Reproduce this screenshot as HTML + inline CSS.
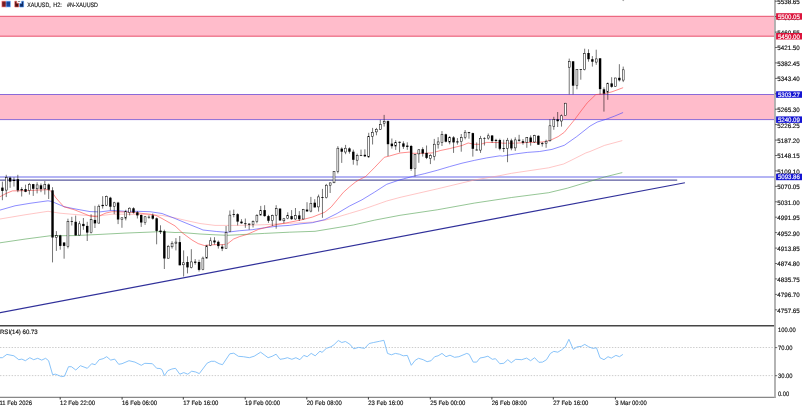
<!DOCTYPE html>
<html><head><meta charset="utf-8"><title>XAUUSD H2</title>
<style>html,body{margin:0;padding:0;background:#fff;overflow:hidden}body{width:807px;height:407px;position:relative;font-family:"Liberation Sans",sans-serif}svg{position:absolute;left:0;top:0;display:block}text{font-family:"Liberation Sans",sans-serif;stroke-width:0.15px;paint-order:stroke;text-rendering:geometricPrecision}</style>
</head><body>
<svg width="807" height="407" viewBox="0 0 807 407">
<rect x="0" y="0" width="807" height="407" fill="#ffffff"/>
<defs><filter id="soft" x="-2%" y="-2%" width="104%" height="104%" color-interpolation-filters="sRGB"><feGaussianBlur stdDeviation="0.3"/></filter></defs>
<g filter="url(#soft)">
<rect x="-3" y="16.2" width="778.0" height="20" fill="#ffbccb"/>
<rect x="-3" y="94.5" width="778.0" height="25.1" fill="#ffbccb"/>
<line x1="-3" y1="16.3" x2="775.0" y2="16.3" stroke="#e8506c" stroke-width="1"/>
<line x1="-3" y1="36.2" x2="775.0" y2="36.2" stroke="#e8506c" stroke-width="1"/>
<line x1="-3" y1="94.5" x2="775.0" y2="94.5" stroke="#8a6ad8" stroke-width="1"/>
<line x1="-3" y1="119.6" x2="775.0" y2="119.6" stroke="#8a6ad8" stroke-width="1"/>
<line x1="-3" y1="177" x2="775.0" y2="177" stroke="#b4b4f4" stroke-width="1.9"/>
<line x1="-3" y1="180.1" x2="677.2" y2="180.1" stroke="#5a5a9e" stroke-width="1.25"/>
<line x1="-3" y1="313.17" x2="684.9" y2="182.7" stroke="#30309a" stroke-width="1.15"/>
<polyline points="0.0,242.8 25.0,239.1 50.0,235.8 75.0,235.6 100.0,234.4 125.0,233.1 150.0,232.1 160.0,231.6 175.0,232.5 180.0,232.4 200.0,234.0 215.0,234.8 227.4,235.3 239.8,234.7 264.6,233.4 289.3,232.2 315.0,231.3 353.3,225.0 374.3,220.2 400.0,215.3 437.2,209.8 474.3,203.1 511.5,197.5 548.7,192.7 567.3,188.2 585.9,182.6 604.5,177.0 622.3,172.6" fill="none" stroke="#4fa04f" stroke-width="0.6"/>
<polyline points="0.0,219.0 25.0,214.8 48.0,211.3 60.0,213.2 75.0,214.5 90.0,215.7 100.0,215.8 112.0,214.2 125.0,214.2 150.0,214.8 162.0,215.4 175.0,217.9 187.0,220.7 200.0,223.5 215.0,225.4 239.8,225.4 264.6,224.7 289.3,223.3 300.0,222.7 312.4,222.1 324.8,220.2 337.2,217.1 349.6,213.4 362.0,209.7 374.3,205.4 386.7,201.0 400.0,197.4 437.2,188.9 474.3,180.0 500.0,175.6 511.5,173.3 548.7,167.8 563.6,164.0 571.8,160.0 585.9,152.9 590.0,151.5 604.5,145.4 622.3,140.6" fill="none" stroke="#ffa0a0" stroke-width="0.6"/>
<polyline points="0.0,210.1 15.0,205.8 30.0,203.3 48.0,200.8 52.0,201.5 56.0,203.3 64.0,206.7 75.0,208.9 90.0,211.6 100.0,211.9 112.0,210.4 125.0,211.3 137.0,211.3 150.0,211.7 162.0,213.5 175.0,218.5 187.0,223.5 200.0,228.7 203.0,230.0 216.7,231.5 225.4,232.2 227.4,232.2 239.8,230.7 252.2,229.7 264.6,227.8 277.0,226.2 289.3,225.4 300.0,223.9 312.4,222.7 324.8,219.6 337.2,213.4 349.6,206.0 362.0,199.8 374.3,192.3 386.7,184.3 400.0,179.8 412.4,176.5 424.8,173.6 437.2,170.3 449.6,166.6 462.0,163.2 474.3,160.4 486.7,157.9 500.0,155.8 502.4,156.1 514.8,154.0 527.2,152.4 539.6,151.5 552.0,149.4 564.3,145.3 576.7,136.6 590.0,126.1 597.1,122.1 605.8,119.4 614.4,116.2 623.1,112.5" fill="none" stroke="#4040ff" stroke-width="0.6"/>
<polyline points="0.0,196.7 6.0,193.5 12.4,190.9 25.0,190.7 40.0,190.0 47.0,189.7 50.0,190.3 53.0,193.5 56.0,198.0 63.8,206.7 75.0,210.0 90.0,216.0 97.0,216.8 100.0,215.6 106.0,213.0 112.0,211.7 125.0,212.0 137.0,212.9 150.0,214.2 156.0,215.4 162.0,218.5 175.0,225.9 183.0,233.4 192.0,240.0 198.2,243.6 204.3,245.5 210.5,244.9 216.7,244.6 222.9,244.7 227.4,243.9 233.6,239.0 239.8,236.5 247.2,234.4 252.2,232.2 258.4,229.4 264.6,227.8 277.0,224.5 289.3,222.3 301.7,219.8 312.4,217.1 324.8,212.2 331.0,207.2 337.2,199.8 343.4,192.3 349.6,186.8 355.8,181.8 359.5,179.6 365.7,176.5 374.3,167.8 384.3,157.3 389.2,156.1 400.0,153.0 409.3,152.1 412.4,153.3 424.8,153.3 432.2,152.9 440.9,150.4 449.6,148.6 462.0,145.5 468.2,143.0 474.3,144.3 480.5,144.3 486.7,142.4 500.0,142.6 502.4,143.2 514.8,143.2 527.2,142.5 539.6,142.2 545.8,141.6 552.0,139.5 558.2,136.6 564.3,132.3 569.3,126.1 574.8,119.4 581.0,111.0 587.2,102.9 595.8,94.6 603.3,93.9 612.0,91.8 623.1,87.7" fill="none" stroke="#ff4040" stroke-width="0.6"/>
<g>
<line x1="2.40" y1="181.6" x2="2.40" y2="200.2" stroke="#000" stroke-width="0.55"/>
<rect x="1.20" y="187.6" width="2.4" height="3.3" fill="#000"/>
<line x1="6.26" y1="174.8" x2="6.26" y2="197.1" stroke="#000" stroke-width="0.55"/>
<rect x="5.31" y="177.6" width="1.9" height="12.5" fill="#fff" stroke="#000" stroke-width="0.5"/>
<line x1="10.11" y1="176.7" x2="10.11" y2="187.8" stroke="#000" stroke-width="0.55"/>
<rect x="8.91" y="177.7" width="2.4" height="3.9" fill="#000"/>
<line x1="13.97" y1="177.3" x2="13.97" y2="186.6" stroke="#000" stroke-width="0.55"/>
<rect x="12.77" y="179.8" width="2.4" height="1.2" fill="#000"/>
<line x1="17.82" y1="174.8" x2="17.82" y2="192.2" stroke="#000" stroke-width="0.55"/>
<rect x="16.62" y="179.2" width="2.4" height="11.1" fill="#000"/>
<line x1="21.68" y1="187.2" x2="21.68" y2="196.5" stroke="#000" stroke-width="0.55"/>
<rect x="20.48" y="189.1" width="2.4" height="1.2" fill="#000"/>
<line x1="25.54" y1="184.7" x2="25.54" y2="192.2" stroke="#000" stroke-width="0.55"/>
<rect x="24.34" y="189.1" width="2.4" height="2.7" fill="#000"/>
<line x1="29.39" y1="182.9" x2="29.39" y2="194.6" stroke="#000" stroke-width="0.55"/>
<rect x="28.44" y="184.3" width="1.9" height="6.3" fill="#fff" stroke="#000" stroke-width="0.5"/>
<line x1="33.25" y1="183.9" x2="33.25" y2="195.9" stroke="#000" stroke-width="0.55"/>
<rect x="32.05" y="184.1" width="2.4" height="4.7" fill="#000"/>
<line x1="37.10" y1="182.3" x2="37.10" y2="193.4" stroke="#000" stroke-width="0.55"/>
<rect x="36.15" y="184.9" width="1.9" height="3.9" fill="#fff" stroke="#000" stroke-width="0.5"/>
<line x1="40.96" y1="183.5" x2="40.96" y2="192.2" stroke="#000" stroke-width="0.55"/>
<rect x="39.76" y="185.3" width="2.4" height="3.8" fill="#000"/>
<line x1="44.82" y1="181.0" x2="44.82" y2="194.6" stroke="#000" stroke-width="0.55"/>
<rect x="43.87" y="184.3" width="1.9" height="4.5" fill="#fff" stroke="#000" stroke-width="0.5"/>
<line x1="48.67" y1="183.5" x2="48.67" y2="199.0" stroke="#000" stroke-width="0.55"/>
<rect x="47.47" y="184.5" width="2.4" height="5.2" fill="#000"/>
<line x1="52.53" y1="187.2" x2="52.53" y2="262.4" stroke="#000" stroke-width="0.55"/>
<rect x="51.33" y="190.3" width="2.4" height="47.2" fill="#000"/>
<line x1="56.38" y1="231.1" x2="56.38" y2="250.9" stroke="#000" stroke-width="0.55"/>
<rect x="55.43" y="235.7" width="1.9" height="1.6" fill="#fff" stroke="#000" stroke-width="0.5"/>
<line x1="60.24" y1="234.8" x2="60.24" y2="249.7" stroke="#000" stroke-width="0.55"/>
<rect x="59.04" y="235.4" width="2.4" height="10.5" fill="#000"/>
<line x1="64.10" y1="242.2" x2="64.10" y2="258.7" stroke="#000" stroke-width="0.55"/>
<rect x="62.90" y="242.5" width="2.4" height="3.4" fill="#000"/>
<line x1="67.95" y1="218.7" x2="67.95" y2="248.4" stroke="#000" stroke-width="0.55"/>
<rect x="67.00" y="221.4" width="1.9" height="24.9" fill="#fff" stroke="#000" stroke-width="0.5"/>
<line x1="71.81" y1="216.8" x2="71.81" y2="225.5" stroke="#000" stroke-width="0.55"/>
<rect x="70.61" y="221.2" width="2.4" height="0.7" fill="#000"/>
<line x1="75.66" y1="215.6" x2="75.66" y2="235.4" stroke="#000" stroke-width="0.55"/>
<rect x="74.46" y="221.8" width="2.4" height="13.6" fill="#000"/>
<line x1="79.52" y1="221.2" x2="79.52" y2="235.4" stroke="#000" stroke-width="0.55"/>
<rect x="78.57" y="223.8" width="1.9" height="11.3" fill="#fff" stroke="#000" stroke-width="0.5"/>
<line x1="83.38" y1="218.0" x2="83.38" y2="229.8" stroke="#000" stroke-width="0.55"/>
<rect x="82.18" y="223.9" width="2.4" height="2.2" fill="#000"/>
<line x1="87.23" y1="221.8" x2="87.23" y2="241.0" stroke="#000" stroke-width="0.55"/>
<rect x="86.03" y="225.9" width="2.4" height="6.7" fill="#000"/>
<line x1="91.09" y1="214.3" x2="91.09" y2="233.5" stroke="#000" stroke-width="0.55"/>
<rect x="90.14" y="219.6" width="1.9" height="13.1" fill="#fff" stroke="#000" stroke-width="0.5"/>
<line x1="94.94" y1="205.8" x2="94.94" y2="228.0" stroke="#000" stroke-width="0.55"/>
<rect x="93.74" y="219.9" width="2.4" height="3.5" fill="#000"/>
<line x1="98.80" y1="204.5" x2="98.80" y2="223.5" stroke="#000" stroke-width="0.55"/>
<rect x="97.85" y="206.2" width="1.9" height="16.9" fill="#fff" stroke="#000" stroke-width="0.5"/>
<line x1="102.66" y1="196.2" x2="102.66" y2="208.6" stroke="#000" stroke-width="0.55"/>
<rect x="101.46" y="204.9" width="2.4" height="1.2" fill="#000"/>
<line x1="106.51" y1="195.6" x2="106.51" y2="206.1" stroke="#000" stroke-width="0.55"/>
<rect x="105.56" y="196.4" width="1.9" height="8.8" fill="#fff" stroke="#000" stroke-width="0.5"/>
<line x1="110.37" y1="196.8" x2="110.37" y2="210.4" stroke="#000" stroke-width="0.55"/>
<rect x="109.17" y="197.7" width="2.4" height="9.0" fill="#000"/>
<line x1="114.22" y1="201.8" x2="114.22" y2="214.2" stroke="#000" stroke-width="0.55"/>
<rect x="113.27" y="202.8" width="1.9" height="3.6" fill="#fff" stroke="#000" stroke-width="0.5"/>
<line x1="118.08" y1="201.8" x2="118.08" y2="224.1" stroke="#000" stroke-width="0.55"/>
<rect x="116.88" y="202.6" width="2.4" height="16.9" fill="#000"/>
<line x1="121.94" y1="217.5" x2="121.94" y2="227.8" stroke="#000" stroke-width="0.55"/>
<rect x="120.99" y="217.8" width="1.9" height="1.7" fill="#fff" stroke="#000" stroke-width="0.5"/>
<line x1="125.79" y1="209.8" x2="125.79" y2="220.4" stroke="#000" stroke-width="0.55"/>
<rect x="124.84" y="211.3" width="1.9" height="6.9" fill="#fff" stroke="#000" stroke-width="0.5"/>
<line x1="129.65" y1="207.3" x2="129.65" y2="215.4" stroke="#000" stroke-width="0.55"/>
<rect x="128.70" y="208.2" width="1.9" height="4.4" fill="#fff" stroke="#000" stroke-width="0.5"/>
<line x1="133.50" y1="207.3" x2="133.50" y2="213.5" stroke="#000" stroke-width="0.55"/>
<rect x="132.30" y="208.3" width="2.4" height="4.3" fill="#000"/>
<line x1="137.36" y1="211.1" x2="137.36" y2="218.5" stroke="#000" stroke-width="0.55"/>
<rect x="136.16" y="212.3" width="2.4" height="3.1" fill="#000"/>
<line x1="141.22" y1="214.5" x2="141.22" y2="226.9" stroke="#000" stroke-width="0.55"/>
<rect x="140.02" y="215.0" width="2.4" height="7.5" fill="#000"/>
<line x1="145.07" y1="216.0" x2="145.07" y2="224.9" stroke="#000" stroke-width="0.55"/>
<rect x="144.12" y="216.8" width="1.9" height="5.7" fill="#fff" stroke="#000" stroke-width="0.5"/>
<line x1="148.93" y1="215.4" x2="148.93" y2="218.7" stroke="#000" stroke-width="0.55"/>
<rect x="147.73" y="216.8" width="2.4" height="0.7" fill="#000"/>
<line x1="152.78" y1="213.5" x2="152.78" y2="219.7" stroke="#000" stroke-width="0.55"/>
<rect x="151.58" y="215.4" width="2.4" height="3.3" fill="#000"/>
<line x1="156.64" y1="217.5" x2="156.64" y2="244.3" stroke="#000" stroke-width="0.55"/>
<rect x="155.44" y="218.3" width="2.4" height="12.6" fill="#000"/>
<line x1="160.50" y1="225.3" x2="160.50" y2="234.0" stroke="#000" stroke-width="0.55"/>
<rect x="159.30" y="230.6" width="2.4" height="1.5" fill="#000"/>
<line x1="164.35" y1="229.7" x2="164.35" y2="269.0" stroke="#000" stroke-width="0.55"/>
<rect x="163.15" y="231.2" width="2.4" height="27.3" fill="#000"/>
<line x1="168.21" y1="244.9" x2="168.21" y2="258.5" stroke="#000" stroke-width="0.55"/>
<rect x="167.26" y="246.3" width="1.9" height="11.9" fill="#fff" stroke="#000" stroke-width="0.5"/>
<line x1="172.06" y1="241.2" x2="172.06" y2="248.6" stroke="#000" stroke-width="0.55"/>
<rect x="171.11" y="243.2" width="1.9" height="3.6" fill="#fff" stroke="#000" stroke-width="0.5"/>
<line x1="175.92" y1="238.1" x2="175.92" y2="250.4" stroke="#000" stroke-width="0.55"/>
<rect x="174.97" y="242.1" width="1.9" height="1.1" fill="#fff" stroke="#000" stroke-width="0.5"/>
<line x1="179.78" y1="236.0" x2="179.78" y2="265.3" stroke="#000" stroke-width="0.55"/>
<rect x="178.58" y="242.1" width="2.4" height="23.2" fill="#000"/>
<line x1="183.63" y1="250.4" x2="183.63" y2="276.5" stroke="#000" stroke-width="0.55"/>
<rect x="182.68" y="262.8" width="1.9" height="2.0" fill="#fff" stroke="#000" stroke-width="0.5"/>
<line x1="187.49" y1="256.3" x2="187.49" y2="273.4" stroke="#000" stroke-width="0.55"/>
<rect x="186.29" y="262.0" width="2.4" height="5.4" fill="#000"/>
<line x1="191.34" y1="249.2" x2="191.34" y2="268.4" stroke="#000" stroke-width="0.55"/>
<rect x="190.39" y="261.9" width="1.9" height="5.7" fill="#fff" stroke="#000" stroke-width="0.5"/>
<line x1="195.20" y1="259.1" x2="195.20" y2="264.7" stroke="#000" stroke-width="0.55"/>
<rect x="194.00" y="261.6" width="2.4" height="1.2" fill="#000"/>
<line x1="199.06" y1="259.7" x2="199.06" y2="271.5" stroke="#000" stroke-width="0.55"/>
<rect x="197.86" y="262.0" width="2.4" height="7.9" fill="#000"/>
<line x1="202.91" y1="256.6" x2="202.91" y2="270.3" stroke="#000" stroke-width="0.55"/>
<rect x="201.96" y="258.1" width="1.9" height="11.5" fill="#fff" stroke="#000" stroke-width="0.5"/>
<line x1="206.77" y1="244.9" x2="206.77" y2="258.7" stroke="#000" stroke-width="0.55"/>
<rect x="205.82" y="245.8" width="1.9" height="12.3" fill="#fff" stroke="#000" stroke-width="0.5"/>
<line x1="210.62" y1="237.4" x2="210.62" y2="246.1" stroke="#000" stroke-width="0.55"/>
<rect x="209.67" y="240.8" width="1.9" height="4.5" fill="#fff" stroke="#000" stroke-width="0.5"/>
<line x1="214.48" y1="237.2" x2="214.48" y2="244.6" stroke="#000" stroke-width="0.55"/>
<rect x="213.28" y="240.5" width="2.4" height="1.9" fill="#000"/>
<line x1="218.34" y1="240.5" x2="218.34" y2="248.6" stroke="#000" stroke-width="0.55"/>
<rect x="217.14" y="241.8" width="2.4" height="4.3" fill="#000"/>
<line x1="222.19" y1="244.3" x2="222.19" y2="251.1" stroke="#000" stroke-width="0.55"/>
<rect x="220.99" y="246.7" width="2.4" height="1.9" fill="#000"/>
<line x1="226.05" y1="226.0" x2="226.05" y2="248.6" stroke="#000" stroke-width="0.55"/>
<rect x="225.10" y="232.4" width="1.9" height="15.9" fill="#fff" stroke="#000" stroke-width="0.5"/>
<line x1="229.90" y1="210.5" x2="229.90" y2="232.2" stroke="#000" stroke-width="0.55"/>
<rect x="228.95" y="215.1" width="1.9" height="16.6" fill="#fff" stroke="#000" stroke-width="0.5"/>
<line x1="233.76" y1="209.6" x2="233.76" y2="217.3" stroke="#000" stroke-width="0.55"/>
<rect x="232.56" y="214.2" width="2.4" height="0.8" fill="#000"/>
<line x1="237.62" y1="213.3" x2="237.62" y2="225.4" stroke="#000" stroke-width="0.55"/>
<rect x="236.42" y="214.2" width="2.4" height="7.4" fill="#000"/>
<line x1="241.47" y1="219.2" x2="241.47" y2="223.7" stroke="#000" stroke-width="0.55"/>
<rect x="240.27" y="221.6" width="2.4" height="1.7" fill="#000"/>
<line x1="245.33" y1="218.5" x2="245.33" y2="227.8" stroke="#000" stroke-width="0.55"/>
<rect x="244.13" y="223.3" width="2.4" height="0.8" fill="#000"/>
<line x1="249.18" y1="223.3" x2="249.18" y2="229.7" stroke="#000" stroke-width="0.55"/>
<rect x="247.98" y="223.7" width="2.4" height="1.0" fill="#000"/>
<line x1="253.04" y1="220.4" x2="253.04" y2="227.5" stroke="#000" stroke-width="0.55"/>
<rect x="252.09" y="221.6" width="1.9" height="2.9" fill="#fff" stroke="#000" stroke-width="0.5"/>
<line x1="256.90" y1="214.2" x2="256.90" y2="223.3" stroke="#000" stroke-width="0.55"/>
<rect x="255.95" y="215.3" width="1.9" height="6.4" fill="#fff" stroke="#000" stroke-width="0.5"/>
<line x1="260.75" y1="205.9" x2="260.75" y2="215.4" stroke="#000" stroke-width="0.55"/>
<rect x="259.80" y="210.3" width="1.9" height="4.8" fill="#fff" stroke="#000" stroke-width="0.5"/>
<line x1="264.61" y1="205.2" x2="264.61" y2="216.7" stroke="#000" stroke-width="0.55"/>
<rect x="263.41" y="210.1" width="2.4" height="6.0" fill="#000"/>
<line x1="268.46" y1="214.8" x2="268.46" y2="222.9" stroke="#000" stroke-width="0.55"/>
<rect x="267.26" y="216.1" width="2.4" height="4.7" fill="#000"/>
<line x1="272.32" y1="214.6" x2="272.32" y2="226.0" stroke="#000" stroke-width="0.55"/>
<rect x="271.37" y="215.7" width="1.9" height="4.9" fill="#fff" stroke="#000" stroke-width="0.5"/>
<line x1="276.18" y1="205.2" x2="276.18" y2="228.7" stroke="#000" stroke-width="0.55"/>
<rect x="275.23" y="208.7" width="1.9" height="6.5" fill="#fff" stroke="#000" stroke-width="0.5"/>
<line x1="280.03" y1="208.4" x2="280.03" y2="221.0" stroke="#000" stroke-width="0.55"/>
<rect x="278.83" y="208.6" width="2.4" height="11.8" fill="#000"/>
<line x1="283.89" y1="217.9" x2="283.89" y2="223.3" stroke="#000" stroke-width="0.55"/>
<rect x="282.94" y="218.8" width="1.9" height="2.0" fill="#fff" stroke="#000" stroke-width="0.5"/>
<line x1="287.74" y1="212.3" x2="287.74" y2="219.2" stroke="#000" stroke-width="0.55"/>
<rect x="286.79" y="215.3" width="1.9" height="3.2" fill="#fff" stroke="#000" stroke-width="0.5"/>
<line x1="291.60" y1="210.1" x2="291.60" y2="219.8" stroke="#000" stroke-width="0.55"/>
<rect x="290.40" y="216.1" width="2.4" height="3.1" fill="#000"/>
<line x1="295.46" y1="208.0" x2="295.46" y2="219.8" stroke="#000" stroke-width="0.55"/>
<rect x="294.51" y="215.7" width="1.9" height="3.3" fill="#fff" stroke="#000" stroke-width="0.5"/>
<line x1="299.31" y1="211.1" x2="299.31" y2="221.0" stroke="#000" stroke-width="0.55"/>
<rect x="298.11" y="215.4" width="2.4" height="3.8" fill="#000"/>
<line x1="303.17" y1="208.9" x2="303.17" y2="219.5" stroke="#000" stroke-width="0.55"/>
<rect x="302.22" y="209.6" width="1.9" height="9.4" fill="#fff" stroke="#000" stroke-width="0.5"/>
<line x1="307.02" y1="202.2" x2="307.02" y2="211.7" stroke="#000" stroke-width="0.55"/>
<rect x="305.82" y="209.6" width="2.4" height="1.8" fill="#000"/>
<line x1="310.88" y1="196.9" x2="310.88" y2="212.3" stroke="#000" stroke-width="0.55"/>
<rect x="309.93" y="203.3" width="1.9" height="7.8" fill="#fff" stroke="#000" stroke-width="0.5"/>
<line x1="314.74" y1="199.2" x2="314.74" y2="207.5" stroke="#000" stroke-width="0.55"/>
<rect x="313.54" y="202.7" width="2.4" height="4.7" fill="#000"/>
<line x1="318.59" y1="194.6" x2="318.59" y2="211.6" stroke="#000" stroke-width="0.55"/>
<rect x="317.64" y="196.9" width="1.9" height="10.0" fill="#fff" stroke="#000" stroke-width="0.5"/>
<line x1="322.45" y1="188.9" x2="322.45" y2="217.8" stroke="#000" stroke-width="0.55"/>
<rect x="321.25" y="197.1" width="2.4" height="0.8" fill="#000"/>
<line x1="326.30" y1="183.9" x2="326.30" y2="198.5" stroke="#000" stroke-width="0.55"/>
<rect x="325.35" y="185.2" width="1.9" height="12.5" fill="#fff" stroke="#000" stroke-width="0.5"/>
<line x1="330.16" y1="182.4" x2="330.16" y2="193.0" stroke="#000" stroke-width="0.55"/>
<rect x="329.21" y="182.9" width="1.9" height="2.3" fill="#fff" stroke="#000" stroke-width="0.5"/>
<line x1="334.02" y1="171.2" x2="334.02" y2="183.1" stroke="#000" stroke-width="0.55"/>
<rect x="333.07" y="171.4" width="1.9" height="11.4" fill="#fff" stroke="#000" stroke-width="0.5"/>
<line x1="337.87" y1="146.2" x2="337.87" y2="173.4" stroke="#000" stroke-width="0.55"/>
<rect x="336.92" y="148.2" width="1.9" height="23.1" fill="#fff" stroke="#000" stroke-width="0.5"/>
<line x1="341.73" y1="147.4" x2="341.73" y2="162.9" stroke="#000" stroke-width="0.55"/>
<rect x="340.53" y="148.6" width="2.4" height="3.1" fill="#000"/>
<line x1="345.58" y1="144.9" x2="345.58" y2="154.2" stroke="#000" stroke-width="0.55"/>
<rect x="344.63" y="148.2" width="1.9" height="3.8" fill="#fff" stroke="#000" stroke-width="0.5"/>
<line x1="349.44" y1="147.4" x2="349.44" y2="153.6" stroke="#000" stroke-width="0.55"/>
<rect x="348.24" y="148.4" width="2.4" height="3.3" fill="#000"/>
<line x1="353.30" y1="149.6" x2="353.30" y2="164.7" stroke="#000" stroke-width="0.55"/>
<rect x="352.10" y="151.7" width="2.4" height="8.1" fill="#000"/>
<line x1="357.15" y1="153.6" x2="357.15" y2="165.4" stroke="#000" stroke-width="0.55"/>
<rect x="356.20" y="155.7" width="1.9" height="4.5" fill="#fff" stroke="#000" stroke-width="0.5"/>
<line x1="361.01" y1="149.6" x2="361.01" y2="156.1" stroke="#000" stroke-width="0.55"/>
<rect x="359.81" y="155.1" width="2.4" height="0.7" fill="#000"/>
<line x1="364.86" y1="149.3" x2="364.86" y2="157.1" stroke="#000" stroke-width="0.55"/>
<rect x="363.66" y="154.8" width="2.4" height="1.5" fill="#000"/>
<line x1="368.72" y1="132.8" x2="368.72" y2="157.9" stroke="#000" stroke-width="0.55"/>
<rect x="367.77" y="136.7" width="1.9" height="20.2" fill="#fff" stroke="#000" stroke-width="0.5"/>
<line x1="372.58" y1="127.9" x2="372.58" y2="144.5" stroke="#000" stroke-width="0.55"/>
<rect x="371.63" y="132.4" width="1.9" height="3.9" fill="#fff" stroke="#000" stroke-width="0.5"/>
<line x1="376.43" y1="127.9" x2="376.43" y2="135.3" stroke="#000" stroke-width="0.55"/>
<rect x="375.48" y="129.3" width="1.9" height="2.6" fill="#fff" stroke="#000" stroke-width="0.5"/>
<line x1="380.29" y1="119.8" x2="380.29" y2="129.7" stroke="#000" stroke-width="0.55"/>
<rect x="379.34" y="124.5" width="1.9" height="4.8" fill="#fff" stroke="#000" stroke-width="0.5"/>
<line x1="384.14" y1="114.9" x2="384.14" y2="126.6" stroke="#000" stroke-width="0.55"/>
<rect x="383.19" y="121.3" width="1.9" height="1.9" fill="#fff" stroke="#000" stroke-width="0.5"/>
<line x1="388.00" y1="120.4" x2="388.00" y2="156.1" stroke="#000" stroke-width="0.55"/>
<rect x="386.80" y="121.1" width="2.4" height="23.1" fill="#000"/>
<line x1="391.86" y1="138.5" x2="391.86" y2="148.6" stroke="#000" stroke-width="0.55"/>
<rect x="390.66" y="143.6" width="2.4" height="2.6" fill="#000"/>
<line x1="395.71" y1="140.2" x2="395.71" y2="149.9" stroke="#000" stroke-width="0.55"/>
<rect x="394.76" y="142.4" width="1.9" height="3.7" fill="#fff" stroke="#000" stroke-width="0.5"/>
<line x1="399.57" y1="141.5" x2="399.57" y2="152.3" stroke="#000" stroke-width="0.55"/>
<rect x="398.37" y="141.8" width="2.4" height="1.0" fill="#000"/>
<line x1="403.42" y1="141.3" x2="403.42" y2="148.9" stroke="#000" stroke-width="0.55"/>
<rect x="402.22" y="143.4" width="2.4" height="3.3" fill="#000"/>
<line x1="407.28" y1="142.3" x2="407.28" y2="149.8" stroke="#000" stroke-width="0.55"/>
<rect x="406.08" y="145.6" width="2.4" height="1.3" fill="#000"/>
<line x1="411.14" y1="144.9" x2="411.14" y2="170.9" stroke="#000" stroke-width="0.55"/>
<rect x="409.94" y="146.0" width="2.4" height="23.0" fill="#000"/>
<line x1="414.99" y1="154.2" x2="414.99" y2="176.5" stroke="#000" stroke-width="0.55"/>
<rect x="414.04" y="154.4" width="1.9" height="14.3" fill="#fff" stroke="#000" stroke-width="0.5"/>
<line x1="418.85" y1="149.2" x2="418.85" y2="162.8" stroke="#000" stroke-width="0.55"/>
<rect x="417.90" y="149.8" width="1.9" height="4.1" fill="#fff" stroke="#000" stroke-width="0.5"/>
<line x1="422.70" y1="147.3" x2="422.70" y2="156.6" stroke="#000" stroke-width="0.55"/>
<rect x="421.50" y="149.2" width="2.4" height="4.3" fill="#000"/>
<line x1="426.56" y1="145.5" x2="426.56" y2="159.1" stroke="#000" stroke-width="0.55"/>
<rect x="425.36" y="152.9" width="2.4" height="5.0" fill="#000"/>
<line x1="430.42" y1="154.2" x2="430.42" y2="164.1" stroke="#000" stroke-width="0.55"/>
<rect x="429.47" y="155.7" width="1.9" height="2.8" fill="#fff" stroke="#000" stroke-width="0.5"/>
<line x1="434.27" y1="138.9" x2="434.27" y2="160.4" stroke="#000" stroke-width="0.55"/>
<rect x="433.32" y="144.2" width="1.9" height="12.2" fill="#fff" stroke="#000" stroke-width="0.5"/>
<line x1="438.13" y1="137.2" x2="438.13" y2="148.6" stroke="#000" stroke-width="0.55"/>
<rect x="437.18" y="141.9" width="1.9" height="2.4" fill="#fff" stroke="#000" stroke-width="0.5"/>
<line x1="441.98" y1="131.1" x2="441.98" y2="146.0" stroke="#000" stroke-width="0.55"/>
<rect x="441.03" y="134.4" width="1.9" height="7.9" fill="#fff" stroke="#000" stroke-width="0.5"/>
<line x1="445.84" y1="133.7" x2="445.84" y2="142.4" stroke="#000" stroke-width="0.55"/>
<rect x="444.64" y="134.3" width="2.4" height="7.4" fill="#000"/>
<line x1="449.70" y1="136.2" x2="449.70" y2="144.3" stroke="#000" stroke-width="0.55"/>
<rect x="448.75" y="137.6" width="1.9" height="4.5" fill="#fff" stroke="#000" stroke-width="0.5"/>
<line x1="453.55" y1="136.2" x2="453.55" y2="152.9" stroke="#000" stroke-width="0.55"/>
<rect x="452.35" y="137.4" width="2.4" height="5.0" fill="#000"/>
<line x1="457.41" y1="138.1" x2="457.41" y2="144.6" stroke="#000" stroke-width="0.55"/>
<rect x="456.21" y="141.4" width="2.4" height="1.0" fill="#000"/>
<line x1="461.26" y1="134.0" x2="461.26" y2="151.7" stroke="#000" stroke-width="0.55"/>
<rect x="460.31" y="137.7" width="1.9" height="3.9" fill="#fff" stroke="#000" stroke-width="0.5"/>
<line x1="465.12" y1="130.0" x2="465.12" y2="139.3" stroke="#000" stroke-width="0.55"/>
<rect x="464.17" y="132.2" width="1.9" height="5.3" fill="#fff" stroke="#000" stroke-width="0.5"/>
<line x1="468.98" y1="131.9" x2="468.98" y2="138.7" stroke="#000" stroke-width="0.55"/>
<rect x="467.78" y="132.2" width="2.4" height="0.9" fill="#000"/>
<line x1="472.83" y1="132.7" x2="472.83" y2="156.6" stroke="#000" stroke-width="0.55"/>
<rect x="471.63" y="133.1" width="2.4" height="15.7" fill="#000"/>
<line x1="476.69" y1="142.4" x2="476.69" y2="150.4" stroke="#000" stroke-width="0.55"/>
<rect x="475.49" y="149.6" width="2.4" height="0.8" fill="#000"/>
<line x1="480.54" y1="135.9" x2="480.54" y2="152.9" stroke="#000" stroke-width="0.55"/>
<rect x="479.59" y="138.3" width="1.9" height="11.8" fill="#fff" stroke="#000" stroke-width="0.5"/>
<line x1="484.40" y1="137.2" x2="484.40" y2="145.5" stroke="#000" stroke-width="0.55"/>
<rect x="483.20" y="138.1" width="2.4" height="0.6" fill="#000"/>
<line x1="488.26" y1="133.5" x2="488.26" y2="139.7" stroke="#000" stroke-width="0.55"/>
<rect x="487.31" y="135.8" width="1.9" height="2.3" fill="#fff" stroke="#000" stroke-width="0.5"/>
<line x1="492.11" y1="135.0" x2="492.11" y2="143.0" stroke="#000" stroke-width="0.55"/>
<rect x="490.91" y="135.5" width="2.4" height="5.6" fill="#000"/>
<line x1="495.97" y1="138.8" x2="495.97" y2="148.2" stroke="#000" stroke-width="0.55"/>
<rect x="494.77" y="139.9" width="2.4" height="1.0" fill="#000"/>
<line x1="499.82" y1="138.7" x2="499.82" y2="150.3" stroke="#000" stroke-width="0.55"/>
<rect x="498.62" y="140.0" width="2.4" height="8.8" fill="#000"/>
<line x1="503.68" y1="139.7" x2="503.68" y2="152.1" stroke="#000" stroke-width="0.55"/>
<rect x="502.48" y="148.2" width="2.4" height="0.8" fill="#000"/>
<line x1="507.54" y1="137.9" x2="507.54" y2="162.2" stroke="#000" stroke-width="0.55"/>
<rect x="506.59" y="140.2" width="1.9" height="8.2" fill="#fff" stroke="#000" stroke-width="0.5"/>
<line x1="511.39" y1="138.7" x2="511.39" y2="150.3" stroke="#000" stroke-width="0.55"/>
<rect x="510.19" y="140.4" width="2.4" height="8.0" fill="#000"/>
<line x1="515.25" y1="137.3" x2="515.25" y2="150.9" stroke="#000" stroke-width="0.55"/>
<rect x="514.30" y="139.9" width="1.9" height="8.0" fill="#fff" stroke="#000" stroke-width="0.5"/>
<line x1="519.10" y1="134.8" x2="519.10" y2="141.6" stroke="#000" stroke-width="0.55"/>
<rect x="517.90" y="139.7" width="2.4" height="1.0" fill="#000"/>
<line x1="522.96" y1="139.1" x2="522.96" y2="144.7" stroke="#000" stroke-width="0.55"/>
<rect x="521.76" y="141.2" width="2.4" height="1.6" fill="#000"/>
<line x1="526.82" y1="137.0" x2="526.82" y2="147.8" stroke="#000" stroke-width="0.55"/>
<rect x="525.87" y="137.6" width="1.9" height="4.7" fill="#fff" stroke="#000" stroke-width="0.5"/>
<line x1="530.67" y1="135.4" x2="530.67" y2="145.7" stroke="#000" stroke-width="0.55"/>
<rect x="529.47" y="137.5" width="2.4" height="4.5" fill="#000"/>
<line x1="534.53" y1="134.8" x2="534.53" y2="142.8" stroke="#000" stroke-width="0.55"/>
<rect x="533.58" y="135.7" width="1.9" height="6.3" fill="#fff" stroke="#000" stroke-width="0.5"/>
<line x1="538.38" y1="135.4" x2="538.38" y2="144.9" stroke="#000" stroke-width="0.55"/>
<rect x="537.18" y="135.8" width="2.4" height="8.9" fill="#000"/>
<line x1="542.24" y1="142.0" x2="542.24" y2="146.6" stroke="#000" stroke-width="0.55"/>
<rect x="541.04" y="143.2" width="2.4" height="0.9" fill="#000"/>
<line x1="546.10" y1="139.7" x2="546.10" y2="147.8" stroke="#000" stroke-width="0.55"/>
<rect x="545.15" y="141.2" width="1.9" height="2.0" fill="#fff" stroke="#000" stroke-width="0.5"/>
<line x1="549.95" y1="119.3" x2="549.95" y2="141.6" stroke="#000" stroke-width="0.55"/>
<rect x="549.00" y="125.8" width="1.9" height="15.0" fill="#fff" stroke="#000" stroke-width="0.5"/>
<line x1="553.81" y1="116.8" x2="553.81" y2="129.8" stroke="#000" stroke-width="0.55"/>
<rect x="552.86" y="119.5" width="1.9" height="6.8" fill="#fff" stroke="#000" stroke-width="0.5"/>
<line x1="557.66" y1="112.0" x2="557.66" y2="127.0" stroke="#000" stroke-width="0.55"/>
<rect x="556.46" y="119.3" width="2.4" height="1.9" fill="#000"/>
<line x1="561.52" y1="114.5" x2="561.52" y2="126.6" stroke="#000" stroke-width="0.55"/>
<rect x="560.57" y="115.8" width="1.9" height="5.2" fill="#fff" stroke="#000" stroke-width="0.5"/>
<line x1="565.38" y1="102.9" x2="565.38" y2="115.9" stroke="#000" stroke-width="0.55"/>
<rect x="564.43" y="103.2" width="1.9" height="12.5" fill="#fff" stroke="#000" stroke-width="0.5"/>
<line x1="569.23" y1="58.6" x2="569.23" y2="94.3" stroke="#000" stroke-width="0.55"/>
<rect x="568.28" y="61.5" width="1.9" height="5.7" fill="#fff" stroke="#000" stroke-width="0.5"/>
<line x1="573.09" y1="61.3" x2="573.09" y2="94.3" stroke="#000" stroke-width="0.55"/>
<rect x="571.89" y="61.3" width="2.4" height="24.4" fill="#000"/>
<line x1="576.94" y1="69.1" x2="576.94" y2="89.3" stroke="#000" stroke-width="0.55"/>
<rect x="575.99" y="69.3" width="1.9" height="16.2" fill="#fff" stroke="#000" stroke-width="0.5"/>
<line x1="580.80" y1="69.1" x2="580.80" y2="79.7" stroke="#000" stroke-width="0.55"/>
<rect x="579.60" y="69.1" width="2.4" height="0.7" fill="#000"/>
<line x1="584.66" y1="48.7" x2="584.66" y2="70.4" stroke="#000" stroke-width="0.55"/>
<rect x="583.71" y="53.6" width="1.9" height="15.8" fill="#fff" stroke="#000" stroke-width="0.5"/>
<line x1="588.51" y1="49.3" x2="588.51" y2="61.7" stroke="#000" stroke-width="0.55"/>
<rect x="587.31" y="53.0" width="2.4" height="6.2" fill="#000"/>
<line x1="592.37" y1="56.1" x2="592.37" y2="66.6" stroke="#000" stroke-width="0.55"/>
<rect x="591.17" y="59.2" width="2.4" height="2.5" fill="#000"/>
<line x1="596.22" y1="49.7" x2="596.22" y2="64.8" stroke="#000" stroke-width="0.55"/>
<rect x="595.27" y="58.9" width="1.9" height="3.2" fill="#fff" stroke="#000" stroke-width="0.5"/>
<line x1="600.08" y1="58.3" x2="600.08" y2="94.3" stroke="#000" stroke-width="0.55"/>
<rect x="598.88" y="58.3" width="2.4" height="30.8" fill="#000"/>
<line x1="603.94" y1="87.4" x2="603.94" y2="111.6" stroke="#000" stroke-width="0.55"/>
<rect x="602.74" y="89.3" width="2.4" height="4.3" fill="#000"/>
<line x1="607.79" y1="82.5" x2="607.79" y2="99.8" stroke="#000" stroke-width="0.55"/>
<rect x="606.84" y="83.5" width="1.9" height="8.7" fill="#fff" stroke="#000" stroke-width="0.5"/>
<line x1="611.65" y1="77.2" x2="611.65" y2="87.7" stroke="#000" stroke-width="0.55"/>
<rect x="610.45" y="83.4" width="2.4" height="3.4" fill="#000"/>
<line x1="615.50" y1="77.8" x2="615.50" y2="86.8" stroke="#000" stroke-width="0.55"/>
<rect x="614.55" y="78.0" width="1.9" height="8.5" fill="#fff" stroke="#000" stroke-width="0.5"/>
<line x1="619.36" y1="64.2" x2="619.36" y2="81.5" stroke="#000" stroke-width="0.55"/>
<rect x="618.16" y="77.8" width="2.4" height="2.5" fill="#000"/>
<line x1="623.22" y1="66.6" x2="623.22" y2="82.1" stroke="#000" stroke-width="0.55"/>
<rect x="622.27" y="69.8" width="1.9" height="10.3" fill="#fff" stroke="#000" stroke-width="0.5"/>
</g>
<path d="M622.1,0 h2.2 l-1.1,1.3 z" fill="#999"/>
<line x1="-3" y1="325.7" x2="775.0" y2="325.7" stroke="#464646" stroke-width="1.5"/>
<line x1="0" y1="347.5" x2="775.0" y2="347.5" stroke="#b8b8b8" stroke-width="0.7" stroke-dasharray="1.45,1.45"/>
<line x1="0" y1="375.6" x2="775.0" y2="375.6" stroke="#b8b8b8" stroke-width="0.7" stroke-dasharray="1.45,1.45"/>
<polyline points="0.0,357.7 2.4,357.7 6.9,354.4 13.9,355.8 18.8,359.7 21.8,359.1 25.4,360.7 29.8,357.7 33.7,359.7 37.7,358.3 41.7,360.1 45.6,358.3 48.6,360.7 52.6,374.6 55.6,374.2 61.5,376.6 64.5,376.2 68.5,366.7 71.4,366.7 75.8,370.0 80.4,365.7 87.3,368.3 91.7,363.7 95.2,364.7 99.2,359.7 103.2,358.7 106.7,356.7 110.7,360.1 114.7,359.1 118.7,364.3 122.0,363.7 129.0,360.7 134.9,362.1 141.3,365.3 144.8,363.3 152.4,363.7 156.7,368.3 160.0,368.5 162.0,369.6 164.4,375.6 167.9,370.6 171.9,369.0 175.5,368.3 179.8,374.2 183.8,372.6 187.8,374.2 191.7,371.2 195.7,372.0 199.3,373.6 207.2,363.1 211.2,361.3 214.6,361.3 219.1,363.7 222.5,364.7 229.8,353.8 233.8,353.2 238.4,356.3 243.3,356.7 249.3,357.7 254.2,356.2 260.6,352.2 264.2,354.8 268.1,357.7 272.1,356.3 276.1,354.2 280.0,359.3 284.0,358.7 287.4,357.7 291.9,359.3 295.9,357.7 299.9,359.7 303.8,355.4 307.2,356.7 311.2,353.4 315.2,355.8 320.0,351.2 322.0,352.4 326.3,348.4 330.9,346.8 333.9,344.8 338.3,340.5 341.8,342.5 345.4,341.5 349.8,344.2 353.7,348.8 358.7,347.4 364.6,348.4 369.2,343.5 373.6,342.5 379.5,341.3 383.9,340.3 387.5,353.4 391.4,354.8 395.4,353.4 399.4,354.2 403.3,355.8 407.3,355.4 411.3,365.3 415.2,360.3 418.6,358.3 423.2,359.7 427.1,361.7 431.1,360.7 434.7,356.7 438.1,355.8 442.0,353.4 446.0,356.7 450.0,355.2 454.5,357.3 458.9,356.7 466.8,353.4 469.2,354.4 473.2,362.1 476.7,362.1 480.0,358.0 484.0,357.3 487.9,356.2 492.3,359.3 495.5,358.7 499.8,363.7 503.8,363.3 507.8,359.7 511.3,362.7 515.7,359.3 521.7,359.7 526.6,358.1 530.6,360.7 534.6,357.7 538.9,362.3 542.5,362.1 546.5,359.7 550.4,353.4 553.8,351.4 557.8,352.2 561.7,349.8 565.3,346.8 568.9,339.3 573.3,349.4 577.2,346.8 581.2,346.4 584.8,344.4 588.7,346.8 592.7,348.4 596.5,347.8 600.0,357.7 604.0,359.7 608.0,356.7 611.3,358.1 615.9,355.4 619.5,356.7 622.9,354.4" fill="none" stroke="#72b8f8" stroke-width="0.85" stroke-linejoin="round"/>
<line x1="-3" y1="397.3" x2="775.8" y2="397.3" stroke="#444" stroke-width="0.8"/>
<line x1="775.0" y1="0" x2="775.0" y2="397.4" stroke="#b0b0b0" stroke-width="1.9"/>
<line x1="775.0" y1="1.2" x2="777.2" y2="1.2" stroke="#333" stroke-width="0.7"/>
<text x="777.3" y="4.0" font-size="6.3" fill="#111" stroke="#111" textLength="22.5" lengthAdjust="spacingAndGlyphs">5538.65</text>
<line x1="775.0" y1="16.6" x2="777.2" y2="16.6" stroke="#333" stroke-width="0.7"/>
<text x="777.3" y="19.5" font-size="6.3" fill="#111" stroke="#111" textLength="22.5" lengthAdjust="spacingAndGlyphs">5499.60</text>
<line x1="775.0" y1="32.1" x2="777.2" y2="32.1" stroke="#333" stroke-width="0.7"/>
<text x="777.3" y="34.9" font-size="6.3" fill="#111" stroke="#111" textLength="22.5" lengthAdjust="spacingAndGlyphs">5460.55</text>
<line x1="775.0" y1="47.5" x2="777.2" y2="47.5" stroke="#333" stroke-width="0.7"/>
<text x="777.3" y="50.3" font-size="6.3" fill="#111" stroke="#111" textLength="22.5" lengthAdjust="spacingAndGlyphs">5421.50</text>
<line x1="775.0" y1="62.9" x2="777.2" y2="62.9" stroke="#333" stroke-width="0.7"/>
<text x="777.3" y="65.8" font-size="6.3" fill="#111" stroke="#111" textLength="22.5" lengthAdjust="spacingAndGlyphs">5382.45</text>
<line x1="775.0" y1="78.4" x2="777.2" y2="78.4" stroke="#333" stroke-width="0.7"/>
<text x="777.3" y="81.2" font-size="6.3" fill="#111" stroke="#111" textLength="22.5" lengthAdjust="spacingAndGlyphs">5343.40</text>
<line x1="775.0" y1="93.8" x2="777.2" y2="93.8" stroke="#333" stroke-width="0.7"/>
<text x="777.3" y="96.6" font-size="6.3" fill="#111" stroke="#111" textLength="22.5" lengthAdjust="spacingAndGlyphs">5304.35</text>
<line x1="775.0" y1="109.2" x2="777.2" y2="109.2" stroke="#333" stroke-width="0.7"/>
<text x="777.3" y="112.1" font-size="6.3" fill="#111" stroke="#111" textLength="22.5" lengthAdjust="spacingAndGlyphs">5265.30</text>
<line x1="775.0" y1="124.6" x2="777.2" y2="124.6" stroke="#333" stroke-width="0.7"/>
<text x="777.3" y="127.5" font-size="6.3" fill="#111" stroke="#111" textLength="22.5" lengthAdjust="spacingAndGlyphs">5226.25</text>
<line x1="775.0" y1="140.1" x2="777.2" y2="140.1" stroke="#333" stroke-width="0.7"/>
<text x="777.3" y="142.9" font-size="6.3" fill="#111" stroke="#111" textLength="22.5" lengthAdjust="spacingAndGlyphs">5187.20</text>
<line x1="775.0" y1="155.5" x2="777.2" y2="155.5" stroke="#333" stroke-width="0.7"/>
<text x="777.3" y="158.3" font-size="6.3" fill="#111" stroke="#111" textLength="22.5" lengthAdjust="spacingAndGlyphs">5148.15</text>
<line x1="775.0" y1="170.9" x2="777.2" y2="170.9" stroke="#333" stroke-width="0.7"/>
<text x="777.3" y="173.8" font-size="6.3" fill="#111" stroke="#111" textLength="22.5" lengthAdjust="spacingAndGlyphs">5109.10</text>
<line x1="775.0" y1="186.4" x2="777.2" y2="186.4" stroke="#333" stroke-width="0.7"/>
<text x="777.3" y="189.2" font-size="6.3" fill="#111" stroke="#111" textLength="22.5" lengthAdjust="spacingAndGlyphs">5070.05</text>
<line x1="775.0" y1="201.8" x2="777.2" y2="201.8" stroke="#333" stroke-width="0.7"/>
<text x="777.3" y="204.6" font-size="6.3" fill="#111" stroke="#111" textLength="22.5" lengthAdjust="spacingAndGlyphs">5031.00</text>
<line x1="775.0" y1="217.2" x2="777.2" y2="217.2" stroke="#333" stroke-width="0.7"/>
<text x="777.3" y="220.1" font-size="6.3" fill="#111" stroke="#111" textLength="22.5" lengthAdjust="spacingAndGlyphs">4991.95</text>
<line x1="775.0" y1="232.6" x2="777.2" y2="232.6" stroke="#333" stroke-width="0.7"/>
<text x="777.3" y="235.5" font-size="6.3" fill="#111" stroke="#111" textLength="22.5" lengthAdjust="spacingAndGlyphs">4952.90</text>
<line x1="775.0" y1="248.1" x2="777.2" y2="248.1" stroke="#333" stroke-width="0.7"/>
<text x="777.3" y="250.9" font-size="6.3" fill="#111" stroke="#111" textLength="22.5" lengthAdjust="spacingAndGlyphs">4913.85</text>
<line x1="775.0" y1="263.5" x2="777.2" y2="263.5" stroke="#333" stroke-width="0.7"/>
<text x="777.3" y="266.4" font-size="6.3" fill="#111" stroke="#111" textLength="22.5" lengthAdjust="spacingAndGlyphs">4874.80</text>
<line x1="775.0" y1="278.9" x2="777.2" y2="278.9" stroke="#333" stroke-width="0.7"/>
<text x="777.3" y="281.8" font-size="6.3" fill="#111" stroke="#111" textLength="22.5" lengthAdjust="spacingAndGlyphs">4835.75</text>
<line x1="775.0" y1="294.4" x2="777.2" y2="294.4" stroke="#333" stroke-width="0.7"/>
<text x="777.3" y="297.2" font-size="6.3" fill="#111" stroke="#111" textLength="22.5" lengthAdjust="spacingAndGlyphs">4796.70</text>
<line x1="775.0" y1="309.8" x2="777.2" y2="309.8" stroke="#333" stroke-width="0.7"/>
<text x="777.3" y="312.7" font-size="6.3" fill="#111" stroke="#111" textLength="22.5" lengthAdjust="spacingAndGlyphs">4757.65</text>
<text x="777.9" y="331.7" font-size="6.3" fill="#111" stroke="#111" textLength="17.9" lengthAdjust="spacingAndGlyphs">100.00</text>
<line x1="775.0" y1="347.6" x2="777.2" y2="347.6" stroke="#333" stroke-width="0.7"/>
<text x="777.9" y="349.9" font-size="6.3" fill="#111" stroke="#111" textLength="14.6" lengthAdjust="spacingAndGlyphs">70.00</text>
<line x1="775.0" y1="375.7" x2="777.2" y2="375.7" stroke="#333" stroke-width="0.7"/>
<text x="777.9" y="378.0" font-size="6.3" fill="#111" stroke="#111" textLength="14.6" lengthAdjust="spacingAndGlyphs">30.00</text>
<text x="777.9" y="395.9" font-size="6.3" fill="#111" stroke="#111" textLength="11.3" lengthAdjust="spacingAndGlyphs">0.00</text>
<rect x="776.1" y="13.2" width="25.9" height="6.5" fill="#dc143c"/>
<text x="777.9" y="18.8" font-size="6.3" fill="#fff" stroke="#fff" textLength="22.0" lengthAdjust="spacingAndGlyphs">5500.05</text>
<rect x="776.1" y="33.0" width="25.9" height="6.5" fill="#dc143c"/>
<text x="777.9" y="38.6" font-size="6.3" fill="#fff" stroke="#fff" textLength="22.0" lengthAdjust="spacingAndGlyphs">5450.00</text>
<rect x="776.1" y="91.3" width="25.9" height="6.5" fill="#1414d2"/>
<text x="777.9" y="96.8" font-size="6.3" fill="#fff" stroke="#fff" textLength="22.0" lengthAdjust="spacingAndGlyphs">5303.27</text>
<rect x="776.1" y="116.4" width="25.9" height="6.5" fill="#1414d2"/>
<text x="777.9" y="121.9" font-size="6.3" fill="#fff" stroke="#fff" textLength="22.0" lengthAdjust="spacingAndGlyphs">5240.09</text>
<rect x="776.1" y="173.7" width="25.9" height="6.5" fill="#1414d2"/>
<text x="777.9" y="179.2" font-size="6.3" fill="#fff" stroke="#fff" textLength="22.0" lengthAdjust="spacingAndGlyphs">5093.86</text>
<line x1="-1.4" y1="397.3" x2="-1.4" y2="399.5" stroke="#222" stroke-width="0.9"/>
<text x="-0.5" y="405.0" font-size="6.3" fill="#111" stroke="#111" textLength="32.4" lengthAdjust="spacingAndGlyphs">11 Feb 2026</text>
<line x1="60.2" y1="397.3" x2="60.2" y2="399.5" stroke="#222" stroke-width="0.9"/>
<text x="60.1" y="405.0" font-size="6.3" fill="#111" stroke="#111" textLength="35.1" lengthAdjust="spacingAndGlyphs">12 Feb 22:00</text>
<line x1="122.1" y1="397.3" x2="122.1" y2="399.5" stroke="#222" stroke-width="0.9"/>
<text x="122.0" y="405.0" font-size="6.3" fill="#111" stroke="#111" textLength="35.1" lengthAdjust="spacingAndGlyphs">16 Feb 06:00</text>
<line x1="183.3" y1="397.3" x2="183.3" y2="399.5" stroke="#222" stroke-width="0.9"/>
<text x="183.2" y="405.0" font-size="6.3" fill="#111" stroke="#111" textLength="35.1" lengthAdjust="spacingAndGlyphs">17 Feb 16:00</text>
<line x1="245.2" y1="397.3" x2="245.2" y2="399.5" stroke="#222" stroke-width="0.9"/>
<text x="245.1" y="405.0" font-size="6.3" fill="#111" stroke="#111" textLength="35.1" lengthAdjust="spacingAndGlyphs">19 Feb 00:00</text>
<line x1="306.8" y1="397.3" x2="306.8" y2="399.5" stroke="#222" stroke-width="0.9"/>
<text x="306.7" y="405.0" font-size="6.3" fill="#111" stroke="#111" textLength="35.1" lengthAdjust="spacingAndGlyphs">20 Feb 08:00</text>
<line x1="368.4" y1="397.3" x2="368.4" y2="399.5" stroke="#222" stroke-width="0.9"/>
<text x="368.3" y="405.0" font-size="6.3" fill="#111" stroke="#111" textLength="35.1" lengthAdjust="spacingAndGlyphs">23 Feb 16:00</text>
<line x1="430.3" y1="397.3" x2="430.3" y2="399.5" stroke="#222" stroke-width="0.9"/>
<text x="430.2" y="405.0" font-size="6.3" fill="#111" stroke="#111" textLength="35.1" lengthAdjust="spacingAndGlyphs">25 Feb 00:00</text>
<line x1="491.9" y1="397.3" x2="491.9" y2="399.5" stroke="#222" stroke-width="0.9"/>
<text x="491.8" y="405.0" font-size="6.3" fill="#111" stroke="#111" textLength="35.1" lengthAdjust="spacingAndGlyphs">26 Feb 08:00</text>
<line x1="553.3" y1="397.3" x2="553.3" y2="399.5" stroke="#222" stroke-width="0.9"/>
<text x="553.2" y="405.0" font-size="6.3" fill="#111" stroke="#111" textLength="35.1" lengthAdjust="spacingAndGlyphs">27 Feb 16:00</text>
<line x1="615.4" y1="397.3" x2="615.4" y2="399.5" stroke="#222" stroke-width="0.9"/>
<text x="615.3" y="405.0" font-size="6.3" fill="#111" stroke="#111" textLength="31.4" lengthAdjust="spacingAndGlyphs">3 Mar 00:00</text>
<g>
<rect x="1.9" y="1.1" width="4.2" height="5.9" fill="#8a2020" stroke="#ff8c8c" stroke-width="0.6"/>
<rect x="6.1" y="1.1" width="4.3" height="5.9" fill="#1252b2" stroke="#8cbcff" stroke-width="0.6"/>
<line x1="2.2" y1="3.9" x2="10.2" y2="3.9" stroke="#2a0a2a" stroke-width="0.5" opacity="0.7"/>
<line x1="2.2" y1="2.5" x2="10.2" y2="2.5" stroke="#2a0a2a" stroke-width="0.3" opacity="0.5"/>
<line x1="2.2" y1="5.4" x2="10.2" y2="5.4" stroke="#2a0a2a" stroke-width="0.3" opacity="0.5"/>
<path d="M14.8,1.2 h1.9 v2.1 h2.0 v3.7 h-3.9 z" fill="#4e1212" stroke="#f05a5a" stroke-width="0.6"/>
<path d="M23.6,1.2 h-2.0 v2.3 h-1.9 v3.5 h3.9 z" fill="#0c2c68" stroke="#4c94f4" stroke-width="0.6"/>
<rect x="17.9" y="1.1" width="2.3" height="0.8" fill="#777"/>
</g>
<text x="27.2" y="6.8" font-size="6.3" fill="#111" stroke="#111" textLength="23.5" lengthAdjust="spacingAndGlyphs">XAUUSD,</text>
<text x="53.2" y="6.8" font-size="6.3" fill="#111" stroke="#111" textLength="8.6" lengthAdjust="spacingAndGlyphs">H2:</text>
<text x="67.0" y="6.8" font-size="6.3" fill="#111" stroke="#111" textLength="31.0" lengthAdjust="spacingAndGlyphs">#N-XAUUSD</text>
<text x="0.0" y="334.2" font-size="6.3" fill="#111" stroke="#111" textLength="37.7" lengthAdjust="spacingAndGlyphs">RSI(14) 60.73</text>
</g>
</svg></body></html>
